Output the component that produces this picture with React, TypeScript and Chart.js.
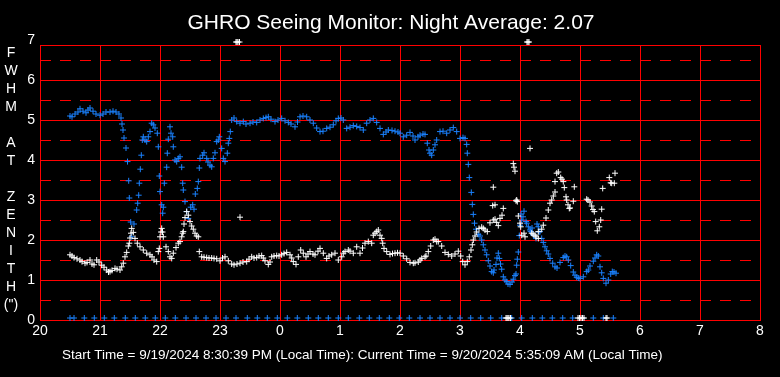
import React, { useEffect, useRef } from "react";
import { Chart, registerables } from "chart.js";

Chart.register(...registerables);

// ---------- text ----------
const TITLE = "GHRO Seeing Monitor: Night Average: 2.07";
const FOOTER =
  "Start Time = 9/19/2024 8:30:39 PM (Local Time): Current Time = 9/20/2024 5:35:09 AM (Local Time)";
const Y_TITLE_CHARS = ["F", "W", "H", "M", "", "A", "T", "", "Z", "E", "N", "I", "T", "H", '(")'];

// ---------- axes ----------
const X_START_HOUR = 20;
const X_END_HOUR = 32; // 8 AM next day
const Y_MIN = 0;
const Y_MAX = 7;
const FRAME_TOP_VALUE = 6.875;
const Y_SOLID_LINES = [1, 2, 3, 4, 5, 6];
const Y_DASHED_LINES = [0.5, 1.5, 2.5, 3.5, 4.5, 5.5, 6.5];
const X_SOLID_LINES = [21, 22, 23, 24, 25, 26, 27, 28, 29, 30, 31];

// ---------- data (minutes after 20:00, FWHM arcsec) ----------
const blueMinutes = [
  30, 32, 35, 38, 40, 43, 46, 48, 50, 53, 56, 60, 63, 66, 70, 73, 76, 79, 81, 82, 83, 84, 86, 87.5, 88.7,
  89.3, 90.7, 91.7, 94, 96.7, 97.7, 98.7, 99.3, 100.3, 101.3, 102.3, 103.3, 105, 106.7, 108.3, 110, 111.7,
  113.3, 115, 117.3, 118.3, 119.3, 120, 121.7, 122.7, 123.3, 124.3, 126.7, 127.3, 128.3, 130, 131, 132.7,
  133.3, 135, 136.7, 138.3, 140, 141.7, 142.7, 143.3, 145, 146.7, 148.3, 150.7, 152.7, 154, 155.3, 157.3,
  158.3, 159.3, 160, 162.7, 164, 166.7, 168, 170, 171.7, 173.3, 175, 176.7, 178.3, 179.3, 181.7, 183.3, 185,
  187.3, 188.3, 189.3, 190.3, 191.7, 194, 196.7, 200, 203.3, 206, 210, 213, 216.7, 220, 223.3, 226, 228.3,
  231, 235, 238, 241.7, 245, 248.3, 251, 255, 257.5, 260, 263, 266.7, 270, 273.3, 276.7, 280, 283, 286.7,
  290, 293.3, 296, 298.3, 301, 303.3, 306.7, 310, 313.3, 316.7, 320, 323.3, 326.7, 330, 333.3, 336.7, 340,
  343.3, 346, 348.3, 352, 355, 358, 360, 363.3, 366.7, 370, 373, 375, 378, 380, 383, 385, 387.3, 389, 390,
  391.7, 393.3, 395, 396.7, 400, 403, 406.7, 410, 413.3, 416.7, 420, 423, 425, 426.7, 427.3, 428.3, 429.3,
  431.3, 432.3, 433.3, 434.5, 436, 438.3, 440, 441.7, 443.3, 445, 446.7, 448.3, 450, 451.7, 453.3, 454, 456,
  457, 458.3, 459.3, 460.5, 461.7, 463.3, 465, 466.7, 468, 470, 472, 473.3, 475, 476, 476.7, 477.3, 478.3,
  479.3, 480, 481, 481.7, 483, 484, 486, 486.7, 488.3, 490, 490.7, 492, 493.3, 496, 497, 498.3, 499, 500,
  501.7, 503.3, 505, 506.7, 508.3, 510, 512.7, 515, 517, 520, 523.3, 525, 526.7, 528.3, 530.7, 533.3, 535,
  536.7, 538.3, 540, 543.3, 546.7, 548.3, 550, 553.3, 555, 556.7, 558.3, 560, 561.7, 563.3, 566, 568.3,
  570.7, 572.3, 574, 576,
];
const blueValues = [
  5.1, 5.08, 5.15, 5.2, 5.28, 5.22, 5.18, 5.25, 5.3, 5.22, 5.15, 5.12, 5.15, 5.2, 5.2, 5.22, 5.2, 5.15, 5.05,
  4.9, 4.75, 4.55, 4.3, 3.96, 3.48, 3.05, 2.45, 2.08, 2.4, 2.75, 2.92, 3.12, 3.42, 3.77, 4.12, 4.5, 4.58, 4.5,
  4.46, 4.58, 4.71, 4.92, 4.88, 4.8, 4.67, 4.33, 3.6, 3.21, 2.88, 2.67, 2.82, 3.42, 3.82, 4.17, 4.52, 4.83,
  4.67, 4.58, 4.33, 4.0, 3.96, 4.04, 4.08, 3.82, 3.42, 3.25, 2.96, 2.71, 2.54, 2.82, 2.88, 2.77, 3.15, 3.29,
  3.46, 3.8, 4.04, 4.12, 4.18, 4.04, 3.95, 3.87, 3.83, 4.04, 4.18, 4.46, 4.5, 4.58, 4.29, 4.04, 3.96, 4.17,
  4.42, 4.54, 4.71, 5.0, 5.05, 4.96, 4.92, 4.96, 4.9, 4.92, 4.95, 4.94, 5.0, 5.04, 5.06, 5.08, 5.02, 4.96,
  5.0, 5.04, 4.98, 4.94, 4.9, 4.83, 4.95, 5.08, 5.1, 5.08, 5.0, 4.92, 4.8, 4.71, 4.72, 4.79, 4.82, 4.88,
  4.98, 5.04, 5.05, 5.0, 4.79, 4.82, 4.86, 4.84, 4.81, 4.75, 4.92, 5.0, 5.04, 4.94, 4.79, 4.64, 4.7, 4.75,
  4.74, 4.72, 4.7, 4.67, 4.58, 4.62, 4.69, 4.6, 4.5, 4.58, 4.62, 4.65, 4.64, 4.42, 4.25, 4.17, 4.12, 4.25,
  4.38, 4.5, 4.71, 4.72, 4.67, 4.75, 4.81, 4.71, 4.54, 4.56, 4.54, 4.39, 4.17, 3.89, 3.56, 3.19, 2.89, 2.64,
  2.42, 2.27, 2.14, 2.1, 2.0, 1.88, 1.75, 1.63, 1.48, 1.35, 1.21, 1.18, 1.25, 1.39, 1.55, 1.67, 1.54, 1.4,
  1.27, 1.08, 1.0, 0.96, 0.9, 0.89, 0.95, 1.02, 1.11, 1.15, 1.37, 1.52, 1.7, 2.11, 2.37, 2.65, 2.5, 2.58,
  2.72, 2.46, 2.42, 2.33, 2.25, 2.21, 2.3, 2.12, 2.04, 2.4, 2.33, 2.2, 2.21, 2.04, 1.94, 1.83, 1.73, 1.65,
  1.54, 1.42, 1.33, 1.3, 1.44, 1.56, 1.6, 1.58, 1.5, 1.36, 1.2, 1.12, 1.07, 1.05, 1.04, 1.08, 1.21, 1.25,
  1.35, 1.47, 1.55, 1.63, 1.6, 1.33, 1.18, 1.04, 0.92, 1.0, 1.15, 1.21, 1.2, 1.17,
];

const whiteMinutes = [
  30, 32, 34, 37, 40, 42, 45, 47, 50, 52, 54, 56.7, 59, 61.7, 64, 66.7, 68.5, 70, 72, 75, 77, 80, 81.7, 83.3,
  85, 86.7, 88.3, 89.3, 90, 91, 91.7, 93.3, 95, 97.3, 100, 103.3, 106.7, 110, 112, 114, 116.7, 118.3, 119.3,
  120, 121, 121.7, 122.5, 123.3, 126, 128.3, 130, 131.7, 133.3, 136, 138.3, 140, 141.7, 142.7, 143.3, 144,
  145, 146.7, 148.3, 150, 151.7, 153.3, 155, 156.7, 158.3, 159.3, 161.7, 164, 166.7, 169, 171.7, 174, 176.7,
  180, 182.5, 185, 188.3, 191.7, 194, 197, 200, 200, 203, 206.7, 209, 211.7, 214, 216.7, 219, 221.7, 223.3,
  225, 228.3, 230, 231.7, 234, 236.7, 239, 241.7, 244, 246.7, 250, 251.7, 253.3, 256, 258.3, 260.7, 263.3,
  266, 268, 270, 273, 275, 278, 280, 283.3, 286.7, 289, 291.7, 295, 298.3, 301.7, 303.3, 305, 308.3, 310,
  313.3, 316.7, 320, 322.5, 325, 328.3, 331.7, 333.3, 335, 336.7, 338.3, 340, 341.7, 342.7, 344, 346.7, 350,
  352.5, 355, 357.5, 360, 363.3, 366.7, 370, 373.3, 375, 378.3, 380, 381.7, 385, 386, 388.3, 390.7, 393.3,
  395, 396.7, 398.3, 401.7, 405, 408.3, 411.7, 415, 418.3, 420.7, 422.7, 425, 427.3, 429.3, 431, 432.3, 433.3,
  435, 436.7, 439, 441.7, 443.3, 445, 447.3, 450, 452.7, 453.3, 453.3, 455, 455, 456.7, 458.3, 460, 462,
  463.3, 473.3, 474, 475, 476, 476.7, 477.3, 478.3, 480, 480.7, 481.7, 484, 485, 490, 491.7, 493, 495, 496,
  498.3, 498.3, 501.7, 503.3, 506, 508.3, 510, 511.7, 513.3, 515, 515, 516.7, 518.3, 520.7, 522, 523.3,
  524.3, 526, 526.7, 528, 529.3, 530, 533.3, 534.3, 546.7, 548, 550, 551.7, 553, 554.3, 555.7, 557.3, 559.3,
  560.7, 561.7, 562.7, 569.3, 570.7, 571.7, 574.3, 575,
];
const whiteValues = [
  1.63, 1.6, 1.56, 1.53, 1.5, 1.46, 1.42, 1.44, 1.5, 1.4, 1.38, 1.5, 1.45, 1.37, 1.32, 1.25, 1.2, 1.21, 1.24,
  1.29, 1.27, 1.25, 1.33, 1.42, 1.58, 1.69, 1.85, 1.92, 2.05, 2.17, 2.29, 2.19, 2.04, 1.92, 1.83, 1.75, 1.67,
  1.63, 1.58, 1.5, 1.46, 1.71, 1.79, 2.08, 2.2, 2.29, 2.2, 2.08, 1.83, 1.71, 1.58, 1.54, 1.67, 1.81, 1.92,
  1.96, 2.08, 2.17, 2.21, 2.4, 2.56, 2.71, 2.62, 2.46, 2.35, 2.27, 2.17, 2.1, 2.08, 1.71, 1.58, 1.57, 1.56,
  1.55, 1.55, 1.54, 1.53, 1.48, 1.55, 1.58, 1.48, 1.4, 1.38, 1.4, 1.42, 2.57, 1.45, 1.46, 1.52, 1.58, 1.55,
  1.56, 1.6, 1.61, 1.55, 1.48, 1.39, 1.45, 1.58, 1.6, 1.61, 1.6, 1.63, 1.66, 1.69, 1.63, 1.55, 1.46, 1.39,
  1.58, 1.75, 1.67, 1.58, 1.65, 1.71, 1.65, 1.63, 1.72, 1.79, 1.67, 1.54, 1.6, 1.63, 1.67, 1.5, 1.58, 1.67,
  1.71, 1.75, 1.72, 1.67, 1.83, 1.67, 1.8, 1.92, 1.96, 1.92, 2.12, 2.17, 2.21, 2.25, 2.12, 2.04, 1.92, 1.79,
  1.71, 1.64, 1.66, 1.67, 1.68, 1.67, 1.6, 1.53, 1.44, 1.42, 1.43, 1.45, 1.5, 1.54, 1.58, 1.6, 1.71, 1.85,
  2.0, 2.02, 1.96, 1.96, 1.85, 1.69, 1.64, 1.6, 1.65, 1.72, 1.6, 1.46, 1.38, 1.46, 1.58, 1.75, 1.88, 2.0,
  2.1, 2.2, 2.29, 2.32, 2.29, 2.25, 2.21, 2.43, 2.86, 2.5, 3.32, 2.52, 2.88, 2.44, 2.36, 2.54, 2.62, 2.79,
  3.91, 3.82, 3.72, 2.98, 3.0, 2.96, 2.6, 2.42, 2.33, 2.12, 2.17, 2.08, 4.29, 2.17, 2.15, 2.12, 2.08, 2.04,
  2.21, 2.27, 2.37, 2.55, 2.75, 2.92, 3.0, 3.1, 3.2, 3.46, 3.67, 3.7, 3.56, 3.52, 3.46, 3.31, 3.08, 3.0,
  2.88, 2.79, 2.8, 2.97, 3.33, 3.02, 3.0, 2.95, 2.85, 2.76, 2.71, 2.46, 2.23, 2.33, 2.5, 2.77, 3.29, 3.56,
  3.43, 3.42, 3.42, 3.67,
];

// readings that sit on the floor (about 0) and the ceiling (about 7)
const blueFloorMinutes = [
  30, 34, 44.3, 54.3, 64.3, 74.3, 85.3, 95.3, 105.3, 115.3, 125.3, 135.3, 146, 156, 166, 176, 186, 196, 207.3,
  217.3, 227.3, 237.3, 247.3, 257.3, 268.3, 278.3, 288.3, 298.3, 308.3, 319.3, 329.3, 339.3, 349.3, 359.3,
  369.3, 380, 390, 400, 410, 420, 430.7, 440.7, 450.7, 461.7, 471.7, 481.7, 492.3, 502.3, 512.3, 522.7, 532.7,
  542.7, 553.3, 563.3, 573.3,
];
const blueFloorValue = 0.05;
const whiteFloorMinutes = [466, 467, 468, 469, 470.5, 538, 539.5, 541, 542.5, 544, 566, 567];
const whiteFloorValue = 0.05;
const whiteCeilMinutes = [196, 197, 198, 199.5, 487, 488, 489];
const whiteCeilValue = 6.95;

// ---------- style ----------
const FONT = 'Arial, "Liberation Sans", sans-serif';
const BLUE = "#1a82ff";
const WHITE = "#ffffff";
const RED = "#ff0000";

function toPoints(minutes: number[], values: number[]) {
  return minutes.map((m, i) => ({ x: X_START_HOUR + m / 60, y: values[i] }));
}
function toConst(minutes: number[], v: number) {
  return minutes.map((m) => ({ x: X_START_HOUR + m / 60, y: v }));
}

const framePlugin = {
  id: "seeingFrame",
  beforeDatasetsDraw(chart: any) {
    const { ctx, chartArea, scales } = chart;
    const xs = scales.x;
    const ys = scales.y;
    const left = Math.round(chartArea.left) + 0.5;
    const right = Math.round(chartArea.right) + 0.5;
    const bottom = Math.round(ys.getPixelForValue(Y_MIN)) + 0.5;
    const top = Math.round(ys.getPixelForValue(FRAME_TOP_VALUE)) + 0.5;
    ctx.save();
    ctx.strokeStyle = RED;
    ctx.lineWidth = 1;
    ctx.setLineDash([11, 9]);
    ctx.lineDashOffset = 0;
    for (const v of Y_DASHED_LINES) {
      const py = Math.round(ys.getPixelForValue(v)) + 0.5;
      ctx.beginPath();
      ctx.moveTo(left - 0.5, py);
      ctx.lineTo(right, py);
      ctx.stroke();
    }
    ctx.setLineDash([]);
    for (const v of Y_SOLID_LINES) {
      const py = Math.round(ys.getPixelForValue(v)) + 0.5;
      ctx.beginPath();
      ctx.moveTo(left, py);
      ctx.lineTo(right, py);
      ctx.stroke();
    }
    for (const h of X_SOLID_LINES) {
      const px = Math.round(xs.getPixelForValue(h)) + 0.5;
      ctx.beginPath();
      ctx.moveTo(px, top);
      ctx.lineTo(px, bottom);
      ctx.stroke();
    }
    ctx.strokeRect(left, top, right - left, bottom - top);
    ctx.restore();
  },
  afterDraw(chart: any) {
    const { ctx, chartArea, width } = chart;
    ctx.save();
    ctx.fillStyle = WHITE;
    ctx.textAlign = "center";
    ctx.textBaseline = "alphabetic";
    ctx.font = `21px ${FONT}`;
    ctx.fillText(TITLE, width / 2 + 1, 29);

    ctx.font = `14px ${FONT}`;
    ctx.textBaseline = "middle";
    Y_TITLE_CHARS.forEach((c, i) => {
      if (c) ctx.fillText(c, 11, chartArea.top + 13 + i * 18);
    });

    ctx.font = `13.5px ${FONT}`;
    ctx.textAlign = "left";
    ctx.textBaseline = "alphabetic";
    ctx.fillText(FOOTER, 62, 359);
    ctx.restore();
  },
};

export default function App() {
  const ref = useRef<HTMLCanvasElement | null>(null);

  useEffect(() => {
    if (!ref.current) return;
    const pointOpts = {
      showLine: false,
      pointStyle: "cross" as const,
      pointRadius: 3,
      pointHoverRadius: 3,
      pointBorderWidth: 1,
      clip: false as const,
    };
    const chart = new Chart(ref.current, {
      type: "scatter",
      data: {
        datasets: [
          {
            label: "FWHM (white)",
            data: toPoints(whiteMinutes, whiteValues),
            borderColor: WHITE,
            backgroundColor: WHITE,
            ...pointOpts,
          },
          {
            label: "white floor",
            data: toConst(whiteFloorMinutes, whiteFloorValue),
            borderColor: WHITE,
            backgroundColor: WHITE,
            ...pointOpts,
          },
          {
            label: "white ceiling",
            data: toConst(whiteCeilMinutes, whiteCeilValue),
            borderColor: WHITE,
            backgroundColor: WHITE,
            ...pointOpts,
          },
          {
            label: "FWHM (blue)",
            data: toPoints(blueMinutes, blueValues),
            borderColor: BLUE,
            backgroundColor: BLUE,
            ...pointOpts,
          },
          {
            label: "blue floor",
            data: toConst(blueFloorMinutes, blueFloorValue),
            borderColor: BLUE,
            backgroundColor: BLUE,
            ...pointOpts,
          },
        ],
      },
      options: {
        responsive: false,
        animation: false,
        devicePixelRatio: 1,
        layout: { padding: { top: 40, right: 20, left: 0, bottom: 0 } },
        plugins: {
          legend: { display: false },
          tooltip: { enabled: false },
          title: { display: false },
        },
        events: [],
        scales: {
          x: {
            type: "linear",
            min: X_START_HOUR,
            max: X_END_HOUR,
            afterFit: (s: any) => {
              s.height = 57;
            },
            ticks: {
              stepSize: 1,
              autoSkip: false,
              maxRotation: 0,
              color: WHITE,
              padding: 3,
              font: { size: 14, family: FONT },
              callback: (v: any) => String(Number(v) % 24),
            },
            grid: { display: false, drawTicks: false },
            border: { display: false },
          },
          y: {
            min: Y_MIN,
            max: Y_MAX,
            afterFit: (s: any) => {
              s.width = 40;
            },
            ticks: {
              stepSize: 1,
              color: WHITE,
              padding: 5,
              font: { size: 14, family: FONT },
            },
            grid: { display: false, drawTicks: false },
            border: { display: false },
          },
        },
      },
      plugins: [framePlugin],
    });
    return () => chart.destroy();
  }, []);

  return (
    <div
      style={{
        position: "absolute",
        left: 0,
        top: 0,
        width: 780,
        height: 377,
        background: "#000",
      }}
    >
      <canvas ref={ref} width={780} height={377} style={{ display: "block" }} />
    </div>
  );
}
